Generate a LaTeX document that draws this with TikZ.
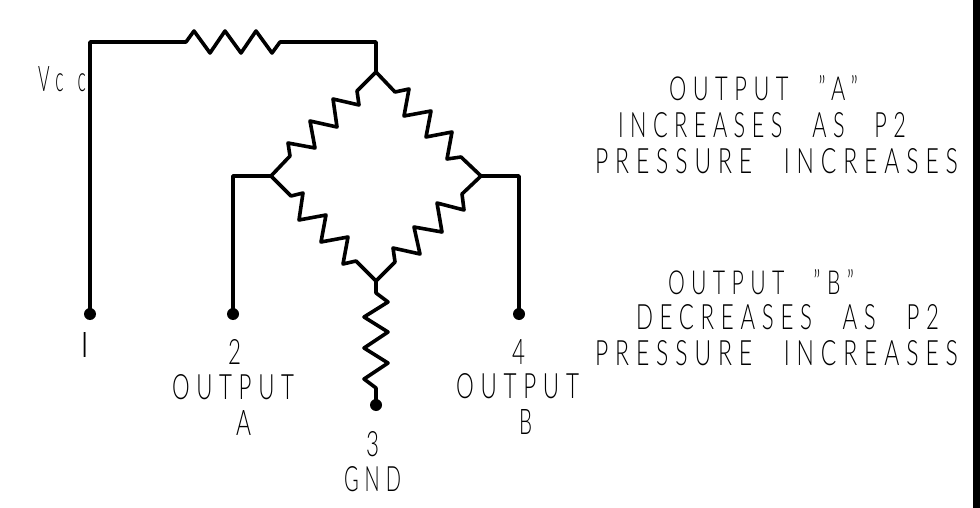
\documentclass[tikz,border=0pt]{standalone}
\usepackage{fontspec}
\setmainfont{Lato Light}[LetterSpace=30,WordSpace=2.4]
\newcommand{\spaced}[1]{{\fontsize{30}{30}\selectfont #1}}
\newcommand{\fitted}[3]{\resizebox{#1pt}{#2pt}{\spaced{#3}}}
\tikzset{
  wire/.style={line width=3.6pt,line join=round,line cap=round,black},
  pin/.style={circle,fill=black,inner sep=0pt,minimum size=12pt},
  lbl/.style={anchor=south west,inner sep=0pt,outer sep=0pt,text=black}
}
\begin{document}
\begin{tikzpicture}[x=1pt,y=-1pt]
\useasboundingbox (0,0) rectangle (980,508);
\fill[black] (973,0) rectangle (980,508);
% junctions and pins
\coordinate (top) at (376,72);
\coordinate (left) at (271,176);
\coordinate (right) at (481,176);
\coordinate (bot) at (376,281);
\node[pin] (p1) at (90,314) {};
\node[pin] (p2) at (233,314) {};
\node[pin] (p3) at (376,405) {};
\node[pin] (p4) at (519,314) {};
% Vcc wire and resistor
\draw[wire] (p1.center) -- (90,42) -- (186,42) -- (194,31) -- (210,53) -- (225,31) -- (241,53) -- (256,31) -- (272,53) -- (280,42) -- (376,42) -- (top);
% bridge
\draw[wire] (top) -- (357,91) -- (359,105) -- (333,99) -- (337,127) -- (310,121) -- (315,148) -- (288,143) -- (290,156) -- (left);
\draw[wire] (top) -- (395,92) -- (409,89) -- (404,116) -- (431,111) -- (426,137) -- (452,132) -- (447,159) -- (461,157) -- (right);
\draw[wire] (left) -- (291,196) -- (303,193) -- (299,220) -- (326,215) -- (321,242) -- (348,237) -- (343,264) -- (356,261) -- (bot);
\draw[wire] (right) -- (462,194) -- (464,210) -- (437,203) -- (442,232) -- (414,227) -- (420,254) -- (393,248) -- (395,262) -- (bot);
\draw[wire] (bot) -- (376,293) -- (388,302) -- (364,317) -- (388,332) -- (364,348) -- (388,363) -- (364,379) -- (376,388) -- (p3.center);
\draw[wire] (left) -- (233,176) -- (p2.center);
\draw[wire] (right) -- (519,176) -- (p4.center);
% labels
\node[lbl] (vcc) at (38,92) {\fitted{48}{25}{V\kern10pt c\kern24pt c}};
\node[lbl] (n1) at (80,357) {\resizebox{!}{25pt}{\spaced{I}}};
\node[lbl] (n2) at (228,364) {\fitted{13}{25}{2}};
\node[lbl] (oa) at (172,400) {\fitted{122}{25}{OUTPUT}};
\node[lbl] (aa) at (236,435) {\fitted{15}{25}{A}};
\node[lbl] (n4) at (512,364) {\fitted{13}{25}{4}};
\node[lbl] (ob) at (456,399) {\fitted{123}{25}{OUTPUT}};
\node[lbl] (bb) at (519,434) {\fitted{13}{25}{B}};
\node[lbl] (n3) at (366,457) {\fitted{13}{25}{3}};
\node[lbl] (gnd) at (344,492) {\fitted{57}{25}{GND}};
\node[lbl] (t1) at (669,101) {\fitted{189}{25}{OUTPUT "A"}};
\node[lbl] (t2) at (618,138) {\fitted{288}{25}{INCREASES AS P2}};
\node[lbl] (t3) at (595,174) {\fitted{363}{25}{PRESSURE INCREASES}};
\node[lbl] (t4) at (668,295) {\fitted{186}{25}{OUTPUT "B"}};
\node[lbl] (t5) at (636,330) {\fitted{303}{25}{DECREASES AS P2}};
\node[lbl] (t6) at (595,366) {\fitted{363}{25}{PRESSURE INCREASES}};
\end{tikzpicture}
\end{document}
